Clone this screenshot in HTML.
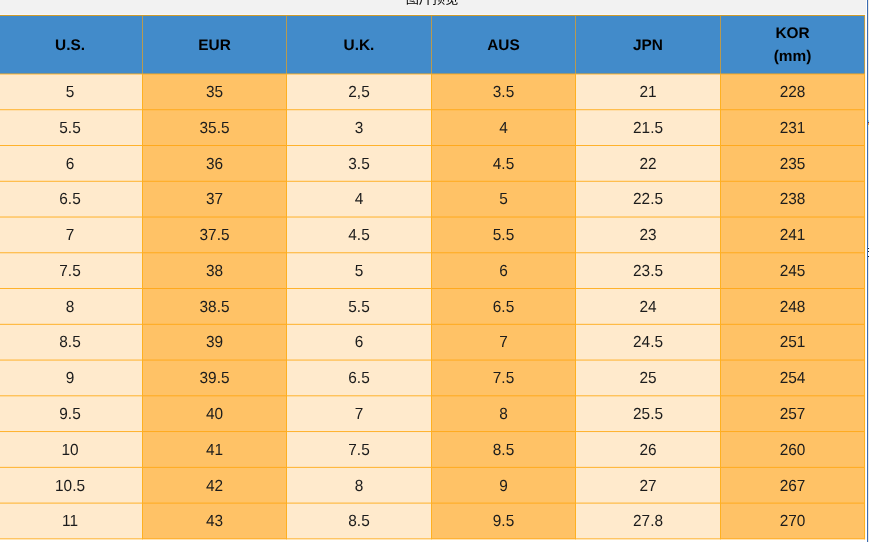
<!DOCTYPE html>
<html><head><meta charset="utf-8"><title>图片预览</title>
<style>
html,body{margin:0;padding:0;}
body{width:869px;height:542px;overflow:hidden;position:relative;background:#fff;font-family:"Liberation Sans","Noto Sans CJK SC",sans-serif;}
.bg{position:absolute;left:0;top:0;width:866px;height:14px;background:#f2f2f2;}
.bg2{position:absolute;left:0;top:14px;width:865px;height:1px;background:#f5f7fc;}
.title{position:absolute;left:-1px;width:866px;top:-9px;text-align:center;font-size:13.2px;line-height:16px;color:#000;}
.vline{position:absolute;left:867px;top:0;width:1px;height:542px;background:#3a6cb2;}
.vline2{position:absolute;left:868px;top:0;width:1px;height:542px;background:#ece8e3;}
.m{position:absolute;left:868px;width:1px;}
.edge{position:absolute;left:865px;top:15px;width:1px;height:524px;background:#fff8e8;}
svg{position:absolute;left:0;top:0;}
.c{position:absolute;display:flex;align-items:center;justify-content:center;text-align:center;font-size:15.4px;line-height:18px;color:#1c1c1c;text-rendering:geometricPrecision;}
.c span{display:inline-block;transform:scaleY(1.05);transform-origin:50% 35%;}
.h{font-weight:bold;color:#000;line-height:23px;}
.h span{transform:none;}
</style></head><body>
<div class="bg"></div><div class="bg2"></div><div class="title">图片预览</div><div class="vline"></div><div class="vline2"></div><div class="edge"></div><div class="m" style="top:120px;height:2px;background:#8fd6e6"></div><div class="m" style="top:122px;height:1px;background:#7a3550"></div><div class="m" style="top:123px;height:2px;background:#f0a444"></div><div class="m" style="top:125px;height:2px;background:#fff0c4"></div><div class="m" style="top:247px;height:10px;background:#fff"></div><div class="m" style="top:248px;height:1px;background:#222"></div><div class="m" style="top:251px;height:1px;background:#222"></div><div class="m" style="top:256px;height:1px;background:#222"></div>
<svg width="865" height="542" viewBox="0 0 865 542">
<rect x="0" y="15" width="865" height="58.98" fill="#428bca"/>
<rect x="0" y="73.98" width="142" height="465.33" fill="#ffeacc" shape-rendering="crispEdges"/>
<rect x="142" y="73.98" width="144" height="465.33" fill="#ffc266" shape-rendering="crispEdges"/>
<rect x="286" y="73.98" width="145" height="465.33" fill="#ffeacc" shape-rendering="crispEdges"/>
<rect x="431" y="73.98" width="144" height="465.33" fill="#ffc266" shape-rendering="crispEdges"/>
<rect x="575" y="73.98" width="145" height="465.33" fill="#ffeacc" shape-rendering="crispEdges"/>
<rect x="720" y="73.98" width="145" height="465.33" fill="#ffc266" shape-rendering="crispEdges"/>
<rect x="0" y="15" width="865" height="1" fill="#cf9c2c"/>
<rect x="0" y="73.52" width="142" height="0.92" fill="#ffad1e"/>
<rect x="142" y="73.52" width="144" height="0.92" fill="#ffa818"/>
<rect x="286" y="73.52" width="145" height="0.92" fill="#ffad1e"/>
<rect x="431" y="73.52" width="144" height="0.92" fill="#ffa818"/>
<rect x="575" y="73.52" width="145" height="0.92" fill="#ffad1e"/>
<rect x="720" y="73.52" width="145" height="0.92" fill="#ffa818"/>
<rect x="0" y="109.28" width="142" height="0.92" fill="#ffad1e"/>
<rect x="142" y="109.28" width="144" height="0.92" fill="#ffa818"/>
<rect x="286" y="109.28" width="145" height="0.92" fill="#ffad1e"/>
<rect x="431" y="109.28" width="144" height="0.92" fill="#ffa818"/>
<rect x="575" y="109.28" width="145" height="0.92" fill="#ffad1e"/>
<rect x="720" y="109.28" width="145" height="0.92" fill="#ffa818"/>
<rect x="0" y="145.04" width="142" height="0.92" fill="#ffad1e"/>
<rect x="142" y="145.04" width="144" height="0.92" fill="#ffa818"/>
<rect x="286" y="145.04" width="145" height="0.92" fill="#ffad1e"/>
<rect x="431" y="145.04" width="144" height="0.92" fill="#ffa818"/>
<rect x="575" y="145.04" width="145" height="0.92" fill="#ffad1e"/>
<rect x="720" y="145.04" width="145" height="0.92" fill="#ffa818"/>
<rect x="0" y="180.80" width="142" height="0.92" fill="#ffad1e"/>
<rect x="142" y="180.80" width="144" height="0.92" fill="#ffa818"/>
<rect x="286" y="180.80" width="145" height="0.92" fill="#ffad1e"/>
<rect x="431" y="180.80" width="144" height="0.92" fill="#ffa818"/>
<rect x="575" y="180.80" width="145" height="0.92" fill="#ffad1e"/>
<rect x="720" y="180.80" width="145" height="0.92" fill="#ffa818"/>
<rect x="0" y="216.56" width="142" height="0.92" fill="#ffad1e"/>
<rect x="142" y="216.56" width="144" height="0.92" fill="#ffa818"/>
<rect x="286" y="216.56" width="145" height="0.92" fill="#ffad1e"/>
<rect x="431" y="216.56" width="144" height="0.92" fill="#ffa818"/>
<rect x="575" y="216.56" width="145" height="0.92" fill="#ffad1e"/>
<rect x="720" y="216.56" width="145" height="0.92" fill="#ffa818"/>
<rect x="0" y="252.32" width="142" height="0.92" fill="#ffad1e"/>
<rect x="142" y="252.32" width="144" height="0.92" fill="#ffa818"/>
<rect x="286" y="252.32" width="145" height="0.92" fill="#ffad1e"/>
<rect x="431" y="252.32" width="144" height="0.92" fill="#ffa818"/>
<rect x="575" y="252.32" width="145" height="0.92" fill="#ffad1e"/>
<rect x="720" y="252.32" width="145" height="0.92" fill="#ffa818"/>
<rect x="0" y="288.08" width="142" height="0.92" fill="#ffad1e"/>
<rect x="142" y="288.08" width="144" height="0.92" fill="#ffa818"/>
<rect x="286" y="288.08" width="145" height="0.92" fill="#ffad1e"/>
<rect x="431" y="288.08" width="144" height="0.92" fill="#ffa818"/>
<rect x="575" y="288.08" width="145" height="0.92" fill="#ffad1e"/>
<rect x="720" y="288.08" width="145" height="0.92" fill="#ffa818"/>
<rect x="0" y="323.84" width="142" height="0.92" fill="#ffad1e"/>
<rect x="142" y="323.84" width="144" height="0.92" fill="#ffa818"/>
<rect x="286" y="323.84" width="145" height="0.92" fill="#ffad1e"/>
<rect x="431" y="323.84" width="144" height="0.92" fill="#ffa818"/>
<rect x="575" y="323.84" width="145" height="0.92" fill="#ffad1e"/>
<rect x="720" y="323.84" width="145" height="0.92" fill="#ffa818"/>
<rect x="0" y="359.60" width="142" height="0.92" fill="#ffad1e"/>
<rect x="142" y="359.60" width="144" height="0.92" fill="#ffa818"/>
<rect x="286" y="359.60" width="145" height="0.92" fill="#ffad1e"/>
<rect x="431" y="359.60" width="144" height="0.92" fill="#ffa818"/>
<rect x="575" y="359.60" width="145" height="0.92" fill="#ffad1e"/>
<rect x="720" y="359.60" width="145" height="0.92" fill="#ffa818"/>
<rect x="0" y="395.36" width="142" height="0.92" fill="#ffad1e"/>
<rect x="142" y="395.36" width="144" height="0.92" fill="#ffa818"/>
<rect x="286" y="395.36" width="145" height="0.92" fill="#ffad1e"/>
<rect x="431" y="395.36" width="144" height="0.92" fill="#ffa818"/>
<rect x="575" y="395.36" width="145" height="0.92" fill="#ffad1e"/>
<rect x="720" y="395.36" width="145" height="0.92" fill="#ffa818"/>
<rect x="0" y="431.12" width="142" height="0.92" fill="#ffad1e"/>
<rect x="142" y="431.12" width="144" height="0.92" fill="#ffa818"/>
<rect x="286" y="431.12" width="145" height="0.92" fill="#ffad1e"/>
<rect x="431" y="431.12" width="144" height="0.92" fill="#ffa818"/>
<rect x="575" y="431.12" width="145" height="0.92" fill="#ffad1e"/>
<rect x="720" y="431.12" width="145" height="0.92" fill="#ffa818"/>
<rect x="0" y="466.88" width="142" height="0.92" fill="#ffad1e"/>
<rect x="142" y="466.88" width="144" height="0.92" fill="#ffa818"/>
<rect x="286" y="466.88" width="145" height="0.92" fill="#ffad1e"/>
<rect x="431" y="466.88" width="144" height="0.92" fill="#ffa818"/>
<rect x="575" y="466.88" width="145" height="0.92" fill="#ffad1e"/>
<rect x="720" y="466.88" width="145" height="0.92" fill="#ffa818"/>
<rect x="0" y="502.64" width="142" height="0.92" fill="#ffad1e"/>
<rect x="142" y="502.64" width="144" height="0.92" fill="#ffa818"/>
<rect x="286" y="502.64" width="145" height="0.92" fill="#ffad1e"/>
<rect x="431" y="502.64" width="144" height="0.92" fill="#ffa818"/>
<rect x="575" y="502.64" width="145" height="0.92" fill="#ffad1e"/>
<rect x="720" y="502.64" width="145" height="0.92" fill="#ffa818"/>
<rect x="0" y="538.40" width="142" height="0.92" fill="#ffad1e"/>
<rect x="142" y="538.40" width="144" height="0.92" fill="#ffa818"/>
<rect x="286" y="538.40" width="145" height="0.92" fill="#ffad1e"/>
<rect x="431" y="538.40" width="144" height="0.92" fill="#ffa818"/>
<rect x="575" y="538.40" width="145" height="0.92" fill="#ffad1e"/>
<rect x="720" y="538.40" width="145" height="0.92" fill="#ffa818"/>
<rect x="142" y="16" width="1" height="57.52" fill="#b89a50"/>
<rect x="142" y="73.52" width="1" height="465.80" fill="#ffb020"/>
<rect x="286" y="16" width="1" height="57.52" fill="#b89a50"/>
<rect x="286" y="73.52" width="1" height="465.80" fill="#ffb020"/>
<rect x="431" y="16" width="1" height="57.52" fill="#b89a50"/>
<rect x="431" y="73.52" width="1" height="465.80" fill="#ffb020"/>
<rect x="575" y="16" width="1" height="57.52" fill="#b89a50"/>
<rect x="575" y="73.52" width="1" height="465.80" fill="#ffb020"/>
<rect x="720" y="16" width="1" height="57.52" fill="#b89a50"/>
<rect x="720" y="73.52" width="1" height="465.80" fill="#ffb020"/>
<rect x="864" y="16" width="1" height="57.52" fill="#b89a50"/>
<rect x="864" y="73.52" width="1" height="465.80" fill="#ffb020"/>
</svg>
<div class="c h" style="left:-2px;top:17.00px;width:144px;height:57.00px"><span>U.S.</span></div>
<div class="c " style="left:-2px;top:84.00px;width:144px;height:18.00px"><span>5</span></div>
<div class="c " style="left:-2px;top:120.00px;width:144px;height:18.00px"><span>5.5</span></div>
<div class="c " style="left:-2px;top:156.00px;width:144px;height:18.00px"><span>6</span></div>
<div class="c " style="left:-2px;top:191.00px;width:144px;height:18.00px"><span>6.5</span></div>
<div class="c " style="left:-2px;top:227.00px;width:144px;height:18.00px"><span>7</span></div>
<div class="c " style="left:-2px;top:263.00px;width:144px;height:18.00px"><span>7.5</span></div>
<div class="c " style="left:-2px;top:299.00px;width:144px;height:18.00px"><span>8</span></div>
<div class="c " style="left:-2px;top:334.00px;width:144px;height:18.00px"><span>8.5</span></div>
<div class="c " style="left:-2px;top:370.00px;width:144px;height:18.00px"><span>9</span></div>
<div class="c " style="left:-2px;top:406.00px;width:144px;height:18.00px"><span>9.5</span></div>
<div class="c " style="left:-2px;top:442.00px;width:144px;height:18.00px"><span>10</span></div>
<div class="c " style="left:-2px;top:478.00px;width:144px;height:18.00px"><span>10.5</span></div>
<div class="c " style="left:-2px;top:513.00px;width:144px;height:18.00px"><span>11</span></div>
<div class="c h" style="left:143px;top:17.00px;width:143px;height:57.00px"><span>EUR</span></div>
<div class="c " style="left:143px;top:84.00px;width:143px;height:18.00px"><span>35</span></div>
<div class="c " style="left:143px;top:120.00px;width:143px;height:18.00px"><span>35.5</span></div>
<div class="c " style="left:143px;top:156.00px;width:143px;height:18.00px"><span>36</span></div>
<div class="c " style="left:143px;top:191.00px;width:143px;height:18.00px"><span>37</span></div>
<div class="c " style="left:143px;top:227.00px;width:143px;height:18.00px"><span>37.5</span></div>
<div class="c " style="left:143px;top:263.00px;width:143px;height:18.00px"><span>38</span></div>
<div class="c " style="left:143px;top:299.00px;width:143px;height:18.00px"><span>38.5</span></div>
<div class="c " style="left:143px;top:334.00px;width:143px;height:18.00px"><span>39</span></div>
<div class="c " style="left:143px;top:370.00px;width:143px;height:18.00px"><span>39.5</span></div>
<div class="c " style="left:143px;top:406.00px;width:143px;height:18.00px"><span>40</span></div>
<div class="c " style="left:143px;top:442.00px;width:143px;height:18.00px"><span>41</span></div>
<div class="c " style="left:143px;top:478.00px;width:143px;height:18.00px"><span>42</span></div>
<div class="c " style="left:143px;top:513.00px;width:143px;height:18.00px"><span>43</span></div>
<div class="c h" style="left:287px;top:17.00px;width:144px;height:57.00px"><span>U.K.</span></div>
<div class="c " style="left:287px;top:84.00px;width:144px;height:18.00px"><span>2,5</span></div>
<div class="c " style="left:287px;top:120.00px;width:144px;height:18.00px"><span>3</span></div>
<div class="c " style="left:287px;top:156.00px;width:144px;height:18.00px"><span>3.5</span></div>
<div class="c " style="left:287px;top:191.00px;width:144px;height:18.00px"><span>4</span></div>
<div class="c " style="left:287px;top:227.00px;width:144px;height:18.00px"><span>4.5</span></div>
<div class="c " style="left:287px;top:263.00px;width:144px;height:18.00px"><span>5</span></div>
<div class="c " style="left:287px;top:299.00px;width:144px;height:18.00px"><span>5.5</span></div>
<div class="c " style="left:287px;top:334.00px;width:144px;height:18.00px"><span>6</span></div>
<div class="c " style="left:287px;top:370.00px;width:144px;height:18.00px"><span>6.5</span></div>
<div class="c " style="left:287px;top:406.00px;width:144px;height:18.00px"><span>7</span></div>
<div class="c " style="left:287px;top:442.00px;width:144px;height:18.00px"><span>7.5</span></div>
<div class="c " style="left:287px;top:478.00px;width:144px;height:18.00px"><span>8</span></div>
<div class="c " style="left:287px;top:513.00px;width:144px;height:18.00px"><span>8.5</span></div>
<div class="c h" style="left:432px;top:17.00px;width:143px;height:57.00px"><span>AUS</span></div>
<div class="c " style="left:432px;top:84.00px;width:143px;height:18.00px"><span>3.5</span></div>
<div class="c " style="left:432px;top:120.00px;width:143px;height:18.00px"><span>4</span></div>
<div class="c " style="left:432px;top:156.00px;width:143px;height:18.00px"><span>4.5</span></div>
<div class="c " style="left:432px;top:191.00px;width:143px;height:18.00px"><span>5</span></div>
<div class="c " style="left:432px;top:227.00px;width:143px;height:18.00px"><span>5.5</span></div>
<div class="c " style="left:432px;top:263.00px;width:143px;height:18.00px"><span>6</span></div>
<div class="c " style="left:432px;top:299.00px;width:143px;height:18.00px"><span>6.5</span></div>
<div class="c " style="left:432px;top:334.00px;width:143px;height:18.00px"><span>7</span></div>
<div class="c " style="left:432px;top:370.00px;width:143px;height:18.00px"><span>7.5</span></div>
<div class="c " style="left:432px;top:406.00px;width:143px;height:18.00px"><span>8</span></div>
<div class="c " style="left:432px;top:442.00px;width:143px;height:18.00px"><span>8.5</span></div>
<div class="c " style="left:432px;top:478.00px;width:143px;height:18.00px"><span>9</span></div>
<div class="c " style="left:432px;top:513.00px;width:143px;height:18.00px"><span>9.5</span></div>
<div class="c h" style="left:576px;top:17.00px;width:144px;height:57.00px"><span>JPN</span></div>
<div class="c " style="left:576px;top:84.00px;width:144px;height:18.00px"><span>21</span></div>
<div class="c " style="left:576px;top:120.00px;width:144px;height:18.00px"><span>21.5</span></div>
<div class="c " style="left:576px;top:156.00px;width:144px;height:18.00px"><span>22</span></div>
<div class="c " style="left:576px;top:191.00px;width:144px;height:18.00px"><span>22.5</span></div>
<div class="c " style="left:576px;top:227.00px;width:144px;height:18.00px"><span>23</span></div>
<div class="c " style="left:576px;top:263.00px;width:144px;height:18.00px"><span>23.5</span></div>
<div class="c " style="left:576px;top:299.00px;width:144px;height:18.00px"><span>24</span></div>
<div class="c " style="left:576px;top:334.00px;width:144px;height:18.00px"><span>24.5</span></div>
<div class="c " style="left:576px;top:370.00px;width:144px;height:18.00px"><span>25</span></div>
<div class="c " style="left:576px;top:406.00px;width:144px;height:18.00px"><span>25.5</span></div>
<div class="c " style="left:576px;top:442.00px;width:144px;height:18.00px"><span>26</span></div>
<div class="c " style="left:576px;top:478.00px;width:144px;height:18.00px"><span>27</span></div>
<div class="c " style="left:576px;top:513.00px;width:144px;height:18.00px"><span>27.8</span></div>
<div class="c h" style="left:721px;top:16.00px;width:143px;height:57.00px"><span>KOR<br>(mm)</span></div>
<div class="c " style="left:721px;top:84.00px;width:143px;height:18.00px"><span>228</span></div>
<div class="c " style="left:721px;top:120.00px;width:143px;height:18.00px"><span>231</span></div>
<div class="c " style="left:721px;top:156.00px;width:143px;height:18.00px"><span>235</span></div>
<div class="c " style="left:721px;top:191.00px;width:143px;height:18.00px"><span>238</span></div>
<div class="c " style="left:721px;top:227.00px;width:143px;height:18.00px"><span>241</span></div>
<div class="c " style="left:721px;top:263.00px;width:143px;height:18.00px"><span>245</span></div>
<div class="c " style="left:721px;top:299.00px;width:143px;height:18.00px"><span>248</span></div>
<div class="c " style="left:721px;top:334.00px;width:143px;height:18.00px"><span>251</span></div>
<div class="c " style="left:721px;top:370.00px;width:143px;height:18.00px"><span>254</span></div>
<div class="c " style="left:721px;top:406.00px;width:143px;height:18.00px"><span>257</span></div>
<div class="c " style="left:721px;top:442.00px;width:143px;height:18.00px"><span>260</span></div>
<div class="c " style="left:721px;top:478.00px;width:143px;height:18.00px"><span>267</span></div>
<div class="c " style="left:721px;top:513.00px;width:143px;height:18.00px"><span>270</span></div>
</body></html>
